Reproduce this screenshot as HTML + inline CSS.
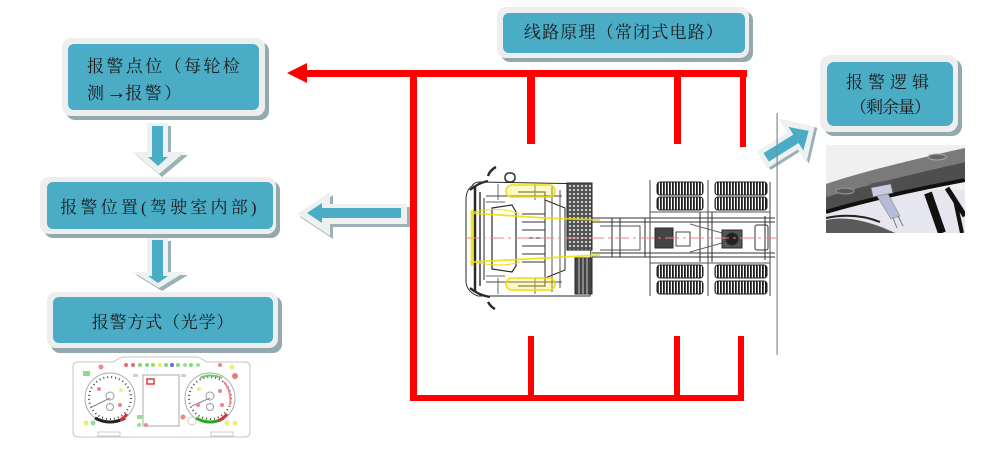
<!DOCTYPE html>
<html>
<head>
<meta charset="utf-8">
<style>
  html,body{margin:0;padding:0;background:#fff;}
  body{width:986px;height:457px;position:relative;overflow:hidden;}
  svg{position:absolute;left:0;top:0;}
  .t{position:absolute;font-family:"Liberation Serif","Noto Serif CJK SC",serif;font-size:17px;color:#1a1a1a;white-space:nowrap;line-height:26px;}
</style>
</head>
<body>
<svg width="986" height="457" viewBox="0 0 986 457" xmlns="http://www.w3.org/2000/svg">
  <defs>
    <pattern id="tire" width="3" height="4" patternUnits="userSpaceOnUse">
      <rect width="3" height="4" fill="#fff"/>
      <rect width="1.8" height="4" fill="#1e1e1e"/>
    </pattern>
    <pattern id="grid" width="4" height="4" patternUnits="userSpaceOnUse">
      <rect width="4" height="4" fill="#555"/>
      <rect x="1" y="1" width="2" height="2" fill="#ccc"/>
    </pattern>
    <clipPath id="wclip"><rect x="826" y="145" width="139" height="88"/></clipPath>
  </defs>

  <!-- ===== Boxes ===== -->
  <rect x="66" y="42" width="203" height="78" rx="9" fill="#93a9ae"/>
  <rect x="62" y="38" width="203" height="78" rx="9" fill="#eeeeee"/>
  <rect x="68" y="44" width="191" height="66" rx="6" fill="#4bacc6"/>

  <rect x="501" y="11" width="252" height="51" rx="9" fill="#93a9ae"/>
  <rect x="497" y="7" width="252" height="51" rx="9" fill="#eeeeee"/>
  <rect x="503" y="13" width="242" height="40" rx="6" fill="#4bacc6"/>

  <rect x="824" y="59" width="138" height="77" rx="10" fill="#93a9ae"/>
  <rect x="820" y="55" width="138" height="77" rx="10" fill="#eeeeee"/>
  <rect x="827" y="62" width="126" height="64" rx="7" fill="#4bacc6"/>

  <rect x="44" y="181" width="236" height="57" rx="9" fill="#93a9ae"/>
  <rect x="40" y="177" width="236" height="57" rx="9" fill="#eeeeee"/>
  <rect x="47" y="182" width="226" height="47" rx="6" fill="#4bacc6"/>

  <rect x="51" y="296" width="231" height="57" rx="9" fill="#93a9ae"/>
  <rect x="47" y="292" width="231" height="56" rx="9" fill="#eeeeee"/>
  <rect x="53" y="297" width="220" height="46" rx="6" fill="#4bacc6"/>

  <!-- ===== Block arrows ===== -->
  <polygon points="150,126 171,126 171,155 188,155 162,177 136,155 150,155" fill="#9bb1b6"/>
  <polygon points="147,123 168,123 168,152 185,152 159,174 133,152 147,152" fill="#eef1f2"/>
  <polygon points="152,126 163,126 163,157 168,157 158,166 148,157 152,157" fill="#4bacc6"/>

  <polygon points="150,241 171,241 171,275 188,275 162,291 136,275 150,275" fill="#9bb1b6"/>
  <polygon points="147,238 168,238 168,272 185,272 159,288 133,272 147,272" fill="#eef1f2"/>
  <polygon points="152,240 163,240 163,276 168,276 158,283 148,276 152,276" fill="#4bacc6"/>

  <polygon points="300,217 333,195 333,207 410,207 410,227 333,227 333,239" fill="#9bb1b6"/>
  <polygon points="297,214 330,192 330,204 407,204 407,224 330,224 330,236" fill="#eef1f2"/>
  <polygon points="307,213 322,203 322,208 401,208 401,218 322,218 322,223" fill="#4bacc6"/>

  <g transform="translate(762,160) rotate(-32)">
    <polygon points="2,-7 38,-7 38,-24 64,2 38,28 38,13 2,13" fill="#9bb1b6"/>
    <polygon points="0,-10 36,-10 36,-26 62,0 36,26 36,10 0,10" fill="#eef1f2"/>
    <polygon points="5,-5 40,-5 40,-14 55,0 40,14 40,5 5,5" fill="#4bacc6"/>
  </g>

  <!-- ===== Red circuit ===== -->
  <g fill="#ff0000">
    <rect x="303" y="70" width="444" height="7"/>
    <polygon points="287,73 307,63 307,83"/>
    <rect x="410" y="70" width="7" height="331"/>
    <rect x="410" y="395" width="334" height="6"/>
    <rect x="527" y="70" width="8" height="74"/>
    <rect x="674" y="70" width="7" height="74"/>
    <rect x="740" y="70" width="6" height="77"/>
    <rect x="528" y="336" width="6" height="62"/>
    <rect x="674" y="336" width="6" height="62"/>
    <rect x="738" y="336" width="6" height="62"/>
  </g>

  <rect x="776.5" y="113" width="1.2" height="242" fill="#8a8a8a"/>

  <!-- ===== Truck ===== -->
  <g stroke="#2a2a2a" stroke-width="1" fill="none">
    <path d="M472,186 Q466,190 466,200 L466,282 Q467,292 478,296 L590,296 L592,184 L480,182 Q474,182 472,186 Z" fill="#fff"/>
    <path d="M470,190 Q478,183 488,181 M470,288 Q478,295 490,297" stroke-width="2.2"/>
    <path d="M475,186 L475,292" stroke-width="2.5"/>
    <path d="M480,192 L480,286" stroke-width="1.4"/>
    <path d="M484,198 L484,280"/>
    <path d="M488,176 Q490,170 496,167 M488,302 Q491,307 495,309" stroke-width="2.5"/>
    <rect x="505" y="173" width="10" height="9" rx="4" stroke-width="1.5"/>
    <path d="M492,208 L512,205 L516,212 L516,266 L512,272 L492,269 Z" stroke-width="1.2"/>
    <path d="M518,192 L545,192 L545,286 L518,286"/>
    <path d="M522,214 L545,214 M522,222 L545,222 M522,230 L545,230 M522,238 L545,238 M522,246 L545,246 M522,254 L545,254 M522,262 L545,262" stroke="#333"/>
    <path d="M545,200 L565,208 L565,270 L545,278"/>
    <path d="M552,186 L552,292" stroke="#555"/>
    <path d="M560,190 L560,288" stroke="#555"/>
    <path d="M486,196 L562,196 M486,282 L562,282" stroke="#444"/>
    <path d="M486,202 L505,202 M486,276 L505,276" stroke="#666"/>
    <path d="M498,184 L498,200 M498,278 L498,294 M535,184 L535,200 M535,278 L535,294" stroke="#666"/>
    <rect x="567" y="183" width="25" height="67" fill="url(#grid)" stroke="#222"/>
    <rect x="575" y="258" width="17" height="36" fill="#444"/>
    <path d="M579,258 L579,294 M583,258 L583,294 M587,258 L587,294" stroke="#ccc"/>
    <!-- chassis -->
    <path d="M592,218 L775,218 M592,257 L775,257 M592,222 L775,222 M592,253 L775,253" stroke="#333"/>
    <path d="M612,218 L612,257 M620,218 L620,257 M645,218 L645,257 M700,212 L700,262 M712,212 L712,262 M765,216 L765,260"/>
    <path d="M600,226 L640,226 L640,250 L600,250" stroke="#555"/>
    <rect x="755" y="225" width="13" height="25" rx="2" stroke="#333"/>
    <path d="M690,224 L740,238 L690,252" stroke="#666"/>
    <g fill="url(#tire)" stroke="#222">
      <rect x="657" y="182" width="46" height="13" rx="3"/>
      <rect x="657" y="197" width="46" height="13" rx="3"/>
      <rect x="715" y="182" width="52" height="13" rx="3"/>
      <rect x="715" y="197" width="52" height="13" rx="3"/>
      <rect x="657" y="265" width="46" height="13" rx="3"/>
      <rect x="657" y="281" width="46" height="13" rx="3"/>
      <rect x="715" y="265" width="52" height="13" rx="3"/>
      <rect x="715" y="281" width="52" height="13" rx="3"/>
    </g>
    <path d="M650,180 L650,296 M708,180 L708,296 M770,182 L770,296" stroke="#444"/>
    <path d="M650,212 L770,212 M650,263 L770,263" stroke="#555"/>
    <rect x="655" y="228" width="18" height="20" fill="#444"/>
    <rect x="722" y="230" width="20" height="18" fill="#555"/>
    <circle cx="732" cy="239" r="6" fill="#222"/>
    <path d="M676,232 L690,232 L690,246 L676,246 Z" stroke="#444"/>
  </g>
  <line x1="465" y1="238" x2="777" y2="238" stroke="#f08080" stroke-width="1" stroke-dasharray="14,4,3,4"/>
  <!-- yellow highlights -->
  <g stroke="#eedd00" fill="none" stroke-width="1.8" opacity="0.85">
    <rect x="506" y="185" width="49" height="12" rx="6" fill="rgba(245,235,60,0.35)"/>
    <rect x="506" y="278" width="49" height="12" rx="6" fill="rgba(245,235,60,0.35)"/>
    <path d="M470,213 L545,218 L600,220 M470,262 L545,258 L600,255"/>
    <path d="M472,210 L472,266" stroke-width="2.5"/>
    <path d="M474,212 Q500,206 520,214 M474,262 Q500,268 520,262" stroke-width="1.2"/>
  </g>

  <!-- ===== Wheel / sensor image ===== -->
  <g clip-path="url(#wclip)">
    <rect x="826" y="145" width="139" height="88" fill="#f0f0f0"/>
    <rect x="826" y="190" width="139" height="43" fill="#e6e6ee"/>
    <path d="M826,184 Q870,169 965,148 L965,162 Q880,181 826,197 Z" fill="#7a7a7a"/>
    <path d="M826,197 Q880,181 965,162 L965,178 Q880,194 826,211 Z" fill="#4e4e4e"/>
    <path d="M826,212 Q880,196 965,180" stroke="#111" stroke-width="4" fill="none"/>
    <path d="M826,220 Q855,214 895,233 L826,233 Z" fill="#5a5a5a"/>
    <path d="M826,218 Q855,212 880,222" stroke="#222" stroke-width="2" fill="none"/>
    <path d="M928,193 L942,233" stroke="#111" stroke-width="8"/>
    <path d="M947,188 L965,216" stroke="#111" stroke-width="5"/>
    <path d="M955,200 L962,233" stroke="#111" stroke-width="4"/>
    <ellipse cx="845" cy="191" rx="9" ry="3" fill="#5a5a5a" stroke="#999"/>
    <ellipse cx="937" cy="157" rx="9" ry="3" fill="#666" stroke="#aaa"/>
    <path d="M870,184 L890,180 L893,193 L873,197 Z" fill="#c9ccdf" stroke="#666" stroke-width="0.8"/>
    <path d="M870,184 L890,180 L891,184 L871,188 Z" fill="#555"/>
    <path d="M877,196 L888,194 L900,216 L891,219 Z" fill="#b5bad8" stroke="#888" stroke-width="0.6"/>
    <path d="M893,218 L897,228 M898,216 L903,226" stroke="#777" stroke-width="1"/>
  </g>

  <!-- ===== Dashboard ===== -->
  <g fill="none" stroke="#c4c4c4" stroke-width="1">
    <path d="M78,362 L113,362 L122,357 L198,357 L207,362 L245,362 Q250,362 250,367 L250,432 Q250,437 245,437 L78,437 Q73,437 73,432 L73,367 Q73,362 78,362 Z"/>
    <circle cx="110" cy="398" r="25" stroke="#aaa"/>
    <circle cx="110" cy="398" r="21" stroke="#444" stroke-width="2" stroke-dasharray="1,3"/>
    <circle cx="210" cy="398" r="25" stroke="#aaa"/>
    <circle cx="210" cy="398" r="21" stroke="#444" stroke-width="2" stroke-dasharray="1,3"/>
    <circle cx="110" cy="396" r="4" stroke="#999"/>
    <circle cx="110" cy="407" r="3.5" stroke="#999"/>
    <circle cx="210" cy="396" r="4" stroke="#999"/>
    <circle cx="210" cy="407" r="3.5" stroke="#999"/>
    <path d="M110,398 L90,408 M210,398 L192,406" stroke="#888"/>
    <rect x="143" y="375" width="36" height="51" stroke="#aaa"/>
    <rect x="98" y="432" width="22" height="4" stroke="#ccc"/>
    <rect x="211" y="432" width="22" height="4" stroke="#ccc"/>
    <circle cx="192" cy="421" r="4" stroke="#ccc"/>
  </g>
  <path d="M95,418 Q110,426 125,418" stroke="#222" stroke-width="3" fill="none"/>
  <path d="M120,420 Q124,418 127,414" stroke="#d33" stroke-width="3" fill="none"/>
  <path d="M196,418 Q210,426 224,418" stroke="#2a2" stroke-width="3" fill="none"/>
  <path d="M218,421 Q224,418 227,414" stroke="#d33" stroke-width="3" fill="none"/>
  <path d="M200,378 Q210,373 222,378" stroke="#6c6" stroke-width="2" fill="none"/>
  <path d="M224,382 Q232,392 230,405" stroke="#e88" stroke-width="2" fill="none"/>
  <g>
    <rect x="147" y="379" width="7" height="5" fill="none" stroke="#e33" stroke-width="1.5"/>
    <circle cx="126" cy="365" r="2" fill="#e66"/>
    <circle cx="133" cy="365" r="2" fill="#e66"/>
    <circle cx="140" cy="365" r="2" fill="#7d7"/>
    <circle cx="147" cy="365" r="2" fill="#7d7"/>
    <circle cx="153" cy="365" r="2" fill="#9d6"/>
    <circle cx="160" cy="365" r="2" fill="#ee6"/>
    <circle cx="166" cy="365" r="2" fill="#7d7"/>
    <circle cx="172" cy="365" r="2" fill="#66e"/>
    <circle cx="178" cy="365" r="2" fill="#7d7"/>
    <circle cx="185" cy="365" r="2" fill="#9d9"/>
    <circle cx="191" cy="365" r="2" fill="#7d7"/>
    <circle cx="198" cy="365" r="2" fill="#9d9"/>
    <rect x="83" y="371" width="7" height="5" fill="#8d8"/>
    <circle cx="101" cy="367" r="2.5" fill="#e88"/>
    <circle cx="99" cy="389" r="2" fill="#e88"/>
    <circle cx="121" cy="390" r="2" fill="#ee8"/>
    <circle cx="120" cy="405" r="2" fill="#e88"/>
    <circle cx="86" cy="423" r="2.5" fill="#ee7"/>
    <circle cx="93" cy="423" r="2.5" fill="#9d9"/>
    <rect x="137" y="415" width="6" height="4" fill="#9d9"/>
    <circle cx="139" cy="425" r="2" fill="#9d9"/>
    <circle cx="146" cy="425" r="2" fill="#e88"/>
    <circle cx="220" cy="365" r="2" fill="#e88"/>
    <circle cx="232" cy="367" r="2.5" fill="#ee7"/>
    <circle cx="235" cy="376" r="3" fill="#e77"/>
    <circle cx="199" cy="389" r="2" fill="#ee8"/>
    <circle cx="220" cy="391" r="2" fill="#e88"/>
    <circle cx="198" cy="405" r="2" fill="#e88"/>
    <circle cx="222" cy="405" r="2" fill="#e88"/>
    <circle cx="183" cy="417" r="2.5" fill="#e88"/>
    <circle cx="227" cy="423" r="2.5" fill="#ee7"/>
    <circle cx="235" cy="423" r="2.5" fill="#ee7"/>
    <rect x="133" y="374" width="5" height="3" fill="#bdb"/>
    <rect x="181" y="374" width="5" height="3" fill="#bdb"/>
  </g>
</svg>

<!-- ===== Text ===== -->
<div class="t" style="left:87px;top:54px;letter-spacing:2.4px;">报警点位（每轮检<br>测<span style="display:inline-block;width:19px;text-align:center;font-size:20px;font-weight:bold;">→</span>报警）</div>
<div class="t" style="left:503px;top:20px;width:242px;text-align:center;letter-spacing:1.2px;">线路原理（常闭式电路）</div>
<div class="t" style="left:827px;top:70px;width:126px;text-align:center;line-height:25px;letter-spacing:5px;">报警逻辑<br><span style="letter-spacing:-1px;">（剩余量）</span></div>
<div class="t" style="left:47px;top:195px;width:226px;text-align:center;letter-spacing:3.2px;">报警位置(驾驶室内部)</div>
<div class="t" style="left:53px;top:310px;width:220px;text-align:center;letter-spacing:0.8px;">报警方式（光学）</div>
</body>
</html>
